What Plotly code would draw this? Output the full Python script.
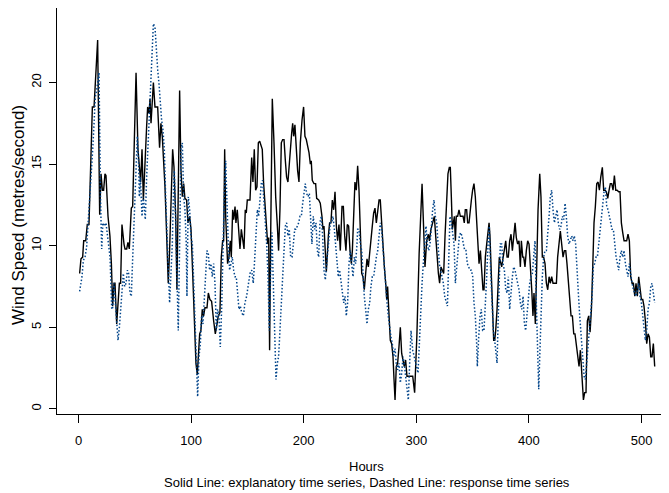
import plotly.graph_objects as go

# Explanatory time series (solid line): hours and wind speed (m/s)
expl_hours = [1, 2.2, 3.7, 4.6, 6.4, 7.8, 9.3, 12.3, 13.8, 17, 18.8, 20, 21.2, 22.3, 23.5, 24.4, 26.2, 27.9, 29.2, 30.3,
              31.5, 32.4, 33.9, 34.8, 36.3, 37.4, 38.6, 40.4, 41.3, 42.8, 43.9, 45.1, 46.9, 48.1, 51.1, 52.8, 55.2, 56.4, 57.6, 60.5,
              61.4, 62.6, 63.5, 64.4, 65.3, 66.5, 67.9, 70.3, 72, 73.2, 74.4, 76.8, 78.3, 79.7, 80.9, 82.4, 83.6, 84.8, 86.3, 87.4,
              88.6, 89.8, 91, 92.2, 93.4, 94.5, 96, 97.2, 98.7, 99.9, 101.3, 102.8, 104.3, 105.5, 106.4, 107.6, 108.7, 109.9, 111.1, 112.3,
              114.1, 115.3, 116.7, 118.2, 120, 121.5, 123, 124.1, 125.6, 126.8, 128, 128.9, 129.8, 130.7, 132.4, 133.6, 134.8, 135.7, 136.9, 137.8,
              139, 139.8, 141, 142.2, 143.4, 144.6, 145.8, 147, 148.1, 149, 149.9, 152.3, 153.8, 154.9, 156.1, 157.3, 158.5, 159.7, 160.9, 162,
              163.2, 164.4, 165.6, 166.8, 168, 168.9, 169.7, 170.6, 172.1, 173.6, 175.1, 176.6, 177.7, 178.9, 180.1, 181.3, 182.5, 183.7, 184.8, 186,
              187.2, 188.4, 189.3, 190.2, 191.1, 192.2, 193.4, 194.6, 195.8, 197, 198.5, 199.9, 201.1, 202.3, 203.5, 204.7, 205.9, 206.7, 207.6, 209.1,
              210.6, 211.5, 213.3, 214.7, 216.2, 217.1, 218, 219.2, 220.1, 221.9, 223, 224.2, 225.4, 226.6, 227.8, 229, 230.1, 231.3, 232.5, 234,
              235.2, 236.4, 237.5, 238.7, 239.9, 241.1, 242.3, 243.2, 244.4, 245.5, 246.7, 247.9, 249.1, 250.3, 251.5, 252.6, 253.8, 255, 256.2, 257.4,
              258.6, 259.7, 260.9, 262.1, 263.3, 264.5, 265.7, 266.9, 268, 269.2, 270.4, 271.6, 272.8, 273.7, 274.5, 275.7, 276.9, 278.1, 279.3, 280.2,
              281.1, 282.2, 283.4, 284.6, 285.8, 287, 288.2, 289.3, 290.5, 291.7, 294.1, 296.8, 298.5, 300.5, 302.5, 304, 305.1, 307.7, 309.2, 310.7,
              311.6, 313, 314.5, 316, 317.2, 318.4, 319.6, 320.7, 321.9, 323.1, 324.3, 325.5, 327, 328.1, 329.3, 330.2, 331.1, 332, 332.9, 333.8,
              334.7, 335.5, 336.7, 337.9, 339.1, 340.3, 341.5, 342.6, 343.5, 344.7, 345.6, 346.8, 347.7, 348.9, 350, 351.2, 352.4, 353.6, 354.8, 355.7,
              356.9, 358, 359.2, 360.1, 361.3, 362.5, 363.7, 364.6, 365.4, 366.3, 367.5, 368.7, 369.6, 370.5, 371.7, 372.8, 373.7, 375.8, 377.9, 379.4,
              380.6, 381.7, 382.9, 384.1, 385.3, 386.5, 387.7, 388.8, 390, 391.2, 392.4, 393.3, 394.5, 395.4, 396.5, 397.7, 398.9, 400.1, 401.3, 402.5,
              403.6, 404.5, 405.7, 406.9, 408.1, 409.6, 410.7, 411.9, 413.1, 414.3, 415.5, 416.7, 417.9, 419, 420.2, 421.4, 422.6, 424.4, 425.5, 426.7,
              427.9, 429.1, 430.3, 431.5, 432.7, 433.8, 435, 436.2, 437.4, 438.6, 439.8, 440.9, 442.1, 443.3, 444.5, 445.7, 446.9, 448.4, 449.5, 450.7,
              451.9, 453.1, 454.3, 455.5, 456.6, 457.8, 459, 460.2, 461.4, 462.6, 463.8, 465.2, 466.4, 467.6, 468.8, 470, 471.2, 472.3, 473.5, 474.7,
              475.9, 477.1, 478.3, 479.7, 480.9, 482.1, 483.3, 484.5, 485.7, 486.8, 488, 489.2, 490.4, 491.6, 492.8, 494, 495.1, 496.3, 497.5, 498.7,
              499.9, 501.1, 502.2, 503.4, 504.6, 505.8, 507, 508.2, 509.3, 510.5, 511.7]
expl_speed = [8.3, 9.2, 9.3, 10.3, 10.3, 11.3, 11.3, 18.5, 18.5, 22.6, 11.9, 14.4, 13.4, 13.4, 14.4, 14.3, 11.8, 10.6, 8.9, 6.3,
              7.7, 7.7, 5.2, 6.1, 7.7, 7.7, 11.3, 10.1, 9.8, 9.8, 10.2, 9.8, 12.3, 12.4, 20.6, 15.9, 13.9, 15.9, 12.8, 17.3,
              18.5, 18.1, 19.0, 17.5, 19.0, 20.0, 18.5, 18.5, 16.0, 17.5, 16.7, 13.6, 10.6, 7.7, 9.7, 13.4, 15.9, 14.8, 11.8, 7.3,
              13.0, 19.5, 14.6, 13.0, 13.8, 12.9, 12.8, 11.4, 11.8, 11.0, 8.5, 5.7, 2.8, 2.1, 3.2, 4.6, 4.8, 6.1, 5.7, 6.2,
              6.2, 7.1, 6.7, 6.6, 5.4, 4.6, 5.2, 5.7, 5.9, 9.3, 10.3, 10.3, 15.9, 11.8, 8.9, 9.3, 10.3, 9.3, 12.2, 11.6,
              12.4, 11.4, 12.2, 10.6, 9.8, 11.0, 10.4, 9.8, 12.2, 12.0, 12.8, 12.8, 15.4, 13.9, 15.9, 13.4, 13.6, 16.3, 16.4, 16.1,
              15.9, 13.8, 12.4, 11.2, 10.1, 10.5, 3.6, 10.3, 19.0, 16.3, 13.0, 11.2, 9.7, 12.2, 16.3, 16.5, 16.5, 15.2, 14.2, 13.9,
              15.2, 16.5, 16.9, 17.5, 16.7, 17.4, 15.9, 14.6, 13.9, 16.3, 17.7, 18.5, 16.7, 16.5, 16.1, 15.7, 15.0, 15.2, 14.0, 13.8,
              13.8, 12.9, 12.8, 12.6, 11.8, 11.0, 11.2, 9.1, 8.4, 10.6, 11.4, 11.4, 12.8, 12.2, 13.3, 11.2, 10.3, 11.3, 9.7, 12.4,
              12.4, 10.6, 9.7, 11.3, 11.2, 9.7, 8.9, 9.7, 12.4, 13.9, 13.4, 14.9, 13.4, 11.4, 8.3, 8.1, 7.3, 8.3, 9.2, 8.7,
              9.7, 10.1, 11.2, 12.0, 12.3, 11.4, 12.2, 12.8, 12.8, 11.2, 9.7, 8.7, 7.7, 6.7, 7.5, 5.7, 4.2, 4.0, 3.2, 1.8,
              0.55, 2.6, 2.8, 3.8, 5.0, 3.4, 3.0, 2.6, 3.0, 2.0, 2.0, 2.0, 1.0, 4.5, 9.5, 12.5, 13.8, 8.7, 10.3, 10.7,
              10.3, 11.0, 11.4, 11.8, 10.6, 9.3, 8.3, 7.7, 8.7, 8.5, 8.3, 10.6, 13.0, 14.4, 14.8, 14.8, 13.0, 11.0, 11.4, 11.8,
              10.3, 11.8, 11.8, 12.2, 11.8, 11.8, 11.8, 11.4, 12.2, 12.2, 11.4, 11.4, 12.2, 12.8, 13.4, 13.8, 13.0, 11.4, 9.7, 8.9,
              9.7, 8.1, 7.3, 7.3, 9.3, 10.1, 11.0, 11.4, 10.6, 8.5, 6.5, 4.2, 4.2, 4.8, 6.1, 8.1, 9.3, 8.7, 9.7, 10.3,
              9.3, 9.3, 10.3, 10.7, 9.7, 10.5, 11.4, 10.5, 10.1, 10.3, 8.7, 10.3, 9.3, 9.3, 8.7, 9.7, 10.3, 10.1, 8.9, 7.3,
              5.7, 7.1, 5.2, 8.9, 12.2, 14.4, 13.0, 9.3, 9.3, 8.9, 7.7, 7.3, 8.1, 7.7, 8.1, 7.7, 7.7, 7.7, 9.3, 10.3,
              10.9, 10.1, 9.3, 9.7, 9.7, 8.9, 7.7, 6.7, 5.7, 5.7, 4.6, 4.6, 4.0, 3.4, 2.6, 3.6, 2.0, 0.55, 1.0, 1.0,
              5.4, 5.7, 4.7, 6.1, 8.5, 11.4, 12.4, 13.8, 13.9, 13.4, 14.2, 14.8, 13.4, 13.4, 13.3, 12.9, 13.4, 13.8, 13.8, 13.4,
              14.3, 13.4, 13.4, 13.3, 13.3, 11.4, 10.8, 10.3, 10.3, 10.3, 10.7, 10.3, 8.1, 7.7, 7.7, 6.9, 7.7, 6.9, 8.1, 7.5,
              6.7, 6.7, 6.3, 5.4, 4.0, 4.6, 4.4, 3.2, 3.2, 4.0, 2.6]

# Response time series (dashed/dotted line)
resp_hours = [1, 3.1, 4.3, 5.8, 7.2, 8.7, 10.2, 11.4, 12.6, 13.8, 14.9, 16.1, 18.2, 19.5, 20.6, 21.6, 22.9, 24.4, 25, 26.5,
              28, 29.5, 30.3, 31.5, 32.7, 33.9, 35.1, 36.3, 37.4, 38.6, 39.8, 41, 42.2, 43.4, 44.5, 45.7, 46.9, 47.5, 48.7, 49.9,
              51.1, 52.2, 53.4, 54, 54.9, 55.8, 56.4, 57.6, 58.8, 59.3, 60.5, 61.7, 62.9, 64.1, 65.3, 66.5, 67.9, 69.4, 70.3, 71.5,
              72.6, 73.8, 75, 76.2, 77.4, 78.6, 79.7, 80.9, 82.1, 83.3, 84.5, 85.1, 86.3, 87.4, 88.6, 89.8, 91, 92.2, 93.4, 94.5,
              95.7, 96.3, 97.5, 98.7, 99.9, 101.1, 102.2, 103.4, 104.6, 105.8, 107, 108.2, 109.3, 110.5, 111.7, 112.9, 114.1, 115.3, 116.4, 117.6,
              118.8, 120, 121.2, 122.4, 123.5, 124.7, 125.9, 127.1, 128.3, 129.5, 130.7, 131.8, 133, 134.2, 135.4, 136.6, 137.8, 138.9, 140.1, 141.3,
              142.5, 143.7, 144.9, 146.4, 147.8, 149.3, 150.8, 152.3, 153.8, 155.2, 156.4, 157.6, 158.8, 160, 161.2, 162.3, 163.5, 164.7, 165.9, 167.1,
              168.3, 169.4, 170.6, 171.8, 173, 174.2, 175.4, 176.6, 177.7, 178.9, 180.1, 181.3, 182.5, 183.7, 184.8, 186, 187.2, 188.4, 189.6, 190.8,
              192, 193.1, 194.3, 195.5, 196.7, 197.9, 199.1, 200.2, 201.4, 202.6, 203.8, 205, 206.2, 207.3, 208.5, 209.7, 210.9, 212.1, 213.3, 214.4,
              215.6, 216.8, 218, 219.2, 220.4, 221.5, 222.6, 223.6, 224.8, 226, 227.2, 228.4, 229.6, 230.7, 231.9, 233.1, 234.3, 235.5, 236.7, 237.8,
              239, 240.2, 241.4, 242.6, 243.8, 245, 246.1, 247.3, 247.9, 249.1, 250.3, 251.5, 252.6, 253.8, 255, 256.2, 257.4, 258.6, 259.7, 260.9,
              262.1, 263.3, 264.5, 265.7, 266.9, 268, 269.2, 270.4, 271.6, 272.8, 274, 275.1, 276.3, 277.5, 278.7, 279.9, 281.1, 282.2, 283.4, 284.6,
              285.8, 287, 288.2, 289.3, 290.5, 291.7, 292.9, 294.1, 295.3, 296.8, 298, 299.1, 300.3, 301.5, 302.7, 303.9, 305.1, 306.2, 307.4, 308.6,
              309.8, 311, 312.2, 313.3, 314.5, 315.7, 316.9, 318.1, 319.3, 320.4, 321.6, 322.8, 324, 325.2, 326.4, 327.6, 328.7, 329.9, 331.1, 332.3,
              333.5, 334.7, 335.8, 337, 338.2, 339.4, 340.6, 341.8, 343, 344.1, 345.3, 346.5, 347.7, 348.9, 350.1, 351.2, 352.4, 353.6, 354.2, 355.4,
              356.6, 357.7, 358.9, 360.1, 361.3, 362.5, 363.7, 364.8, 366, 367.2, 368.4, 369.6, 370.8, 371.7, 372.5, 373.5, 374.6, 375.8, 377, 378.2,
              379.4, 380.6, 381.7, 382.9, 384.1, 385.3, 386.5, 387.7, 388.8, 390, 391.2, 392.4, 393.6, 394.8, 396, 397.1, 398.3, 399.5, 400.7, 401.9,
              403.1, 404.2, 405.4, 406.6, 407.8, 408.7, 409.6, 410.7, 411.9, 413.1, 414.3, 415.5, 416.7, 417.9, 419, 420.2, 421.4, 422.6, 423.8, 425,
              426.1, 427.3, 428.5, 429.7, 430.9, 432.1, 433.2, 434.4, 435.6, 436.8, 438, 439.2, 440.3, 441.5, 442.7, 443.9, 445.1, 446.6, 447.8, 449,
              450.1, 451.3, 452.5, 453.7, 454.9, 456.1, 457.2, 458.4, 459.6, 460.8, 462, 463.2, 464.3, 465.5, 466.7, 467.9, 469.1, 470.3, 471.4, 472.6,
              473.8, 475, 476.2, 477.4, 478.6, 479.7, 480.9, 482.1, 483.3, 484.5, 485.7, 486.8, 488, 489.2, 490.4, 491.6, 492.8, 494, 495.1, 496.3,
              497.5, 498.7, 499.9, 501.1, 502.2, 503.4, 504.6, 505.8, 507, 508.2, 509.3, 510.5, 511.7]
resp_speed = [7.2, 8.1, 9.1, 9.3, 9.9, 11.4, 13.0, 14.2, 15.9, 17.5, 19.1, 19.5, 20.6, 13.0, 9.8, 11.4, 11.2, 11.4, 11.0, 10.1,
              9.3, 6.1, 6.2, 7.7, 6.5, 5.2, 4.2, 5.0, 6.1, 7.7, 8.3, 7.5, 7.7, 8.5, 8.3, 7.1, 6.9, 8.1, 10.1, 12.2,
              14.6, 16.7, 15.0, 13.0, 14.2, 13.0, 11.8, 13.0, 12.2, 11.6, 14.2, 16.3, 18.3, 20.3, 22.0, 23.6, 23.4, 21.6, 20.8, 19.9,
              18.7, 17.7, 17.1, 15.9, 13.0, 10.6, 8.5, 6.5, 8.3, 10.1, 13.8, 14.6, 11.4, 8.1, 4.8, 10.1, 15.9, 16.3, 13.0, 12.2,
              10.1, 6.9, 13.0, 12.2, 10.6, 10.1, 8.1, 5.2, 3.2, 0.75, 3.2, 4.0, 5.7, 5.2, 6.7, 8.5, 9.7, 9.5, 8.5, 8.9,
              8.1, 8.9, 7.7, 4.8, 6.1, 5.7, 3.8, 6.1, 10.1, 13.2, 15.2, 11.8, 10.1, 8.5, 8.9, 9.3, 8.5, 8.1, 8.1, 6.9,
              6.1, 6.3, 5.9, 5.7, 6.5, 6.9, 7.5, 8.3, 8.5, 7.7, 9.1, 11.0, 12.2, 11.8, 13.0, 13.8, 14.0, 12.6, 11.8, 10.1,
              8.1, 4.8, 8.1, 10.8, 7.7, 4.0, 1.8, 2.8, 3.2, 4.8, 6.5, 8.9, 9.7, 11.2, 11.4, 10.6, 11.0, 9.3, 9.3, 10.1,
              11.0, 11.0, 11.2, 11.4, 11.8, 11.8, 12.6, 13.4, 13.8, 13.2, 13.0, 13.2, 11.8, 10.1, 11.8, 11.0, 11.4, 9.7, 9.3, 11.4,
              11.8, 10.6, 8.5, 7.9, 8.9, 9.7, 10.6, 11.4, 11.4, 11.8, 11.0, 10.1, 9.3, 8.1, 8.5, 7.7, 7.1, 6.5, 6.9, 5.7,
              6.5, 8.9, 9.7, 8.9, 8.1, 9.3, 8.9, 10.1, 11.0, 11.0, 10.1, 9.7, 8.1, 6.9, 6.1, 5.2, 6.1, 6.5, 7.5, 8.1,
              8.1, 8.9, 9.3, 9.7, 10.6, 11.4, 11.0, 9.7, 8.5, 7.7, 6.5, 5.7, 4.8, 4.4, 4.0, 3.2, 3.7, 2.8, 2.4, 2.8,
              1.6, 2.2, 3.2, 2.8, 2.0, 1.2, 0.55, 2.8, 4.8, 3.6, 3.2, 2.8, 2.4, 2.2, 4.0, 6.1, 7.7, 8.9, 10.1, 11.2,
              10.1, 9.7, 10.1, 11.2, 12.2, 12.8, 11.8, 11.4, 10.1, 8.9, 8.5, 8.1, 7.7, 6.9, 6.5, 6.3, 8.9, 11.8, 11.4, 10.6,
              10.1, 7.7, 8.5, 9.7, 10.6, 10.8, 10.6, 10.1, 9.7, 9.7, 8.9, 8.7, 8.5, 8.5, 8.1, 6.5, 5.7, 4.0, 2.6, 4.4,
              5.7, 6.1, 4.8, 4.8, 6.1, 8.1, 10.1, 11.2, 8.5, 6.5, 4.8, 4.2, 3.2, 2.8, 5.0, 8.1, 10.1, 10.1, 8.9, 8.5,
              7.3, 7.1, 8.1, 6.1, 7.3, 8.1, 8.7, 8.5, 8.1, 7.7, 7.3, 6.5, 6.1, 6.9, 5.2, 4.8, 5.7, 7.1, 7.7, 8.1,
              8.3, 9.3, 10.3, 6.5, 3.2, 1.2, 3.2, 6.5, 8.1, 9.3, 9.7, 9.7, 10.6, 11.8, 13.0, 13.4, 12.2, 11.4, 11.8, 12.2,
              11.4, 11.0, 11.2, 11.8, 11.6, 12.6, 11.8, 10.6, 10.1, 10.3, 10.6, 10.3, 10.6, 10.1, 8.9, 7.1, 5.7, 4.4, 3.2, 2.0,
              1.8, 2.8, 4.0, 4.8, 5.7, 6.9, 8.7, 8.9, 9.3, 9.3, 10.1, 11.0, 11.8, 12.4, 13.3, 13.6, 12.4, 12.2, 11.8, 11.4,
              11.0, 11.0, 10.1, 9.3, 8.9, 8.5, 9.3, 9.7, 9.3, 9.7, 8.9, 8.5, 8.1, 8.9, 8.1, 7.7, 7.3, 7.1, 6.9, 7.3,
              7.7, 6.9, 6.5, 5.7, 4.8, 4.2, 4.8, 6.1, 6.5, 7.5, 7.7, 6.9, 6.5]

x_ticks = [0, 100, 200, 300, 400, 500]
y_ticks = [0, 5, 10, 15, 20]

FONT = "Liberation Sans, Arial, sans-serif"

fig = go.Figure()
fig.add_trace(go.Scatter(x=expl_hours, y=expl_speed, mode="lines",
                         line=dict(color="black", width=1.4), hoverinfo="skip"))
fig.add_trace(go.Scatter(x=resp_hours, y=resp_speed, mode="lines",
                         line=dict(color="#00448a", width=1.5, dash="1.5px,2px"), hoverinfo="skip"))

# The page body adds an 8px offset; the figure is sized to fit the 669x493 window.
fig.update_layout(
    width=661, height=485,
    margin=dict(l=49, r=0, t=0, b=79, autoexpand=False),
    paper_bgcolor="white", plot_bgcolor="white",
    showlegend=False,
    font=dict(family=FONT, size=13, color="black"),
    xaxis=dict(range=[-19.1, 524.4], tickvals=x_ticks, ticktext=[str(v) for v in x_ticks],
               ticks="outside", ticklen=8, tickwidth=1, tickcolor="black", automargin=False,
               showline=True, linecolor="black", linewidth=1.3, mirror=True,
               showgrid=False, zeroline=False, tickfont=dict(size=13), ticklabelstandoff=6),
    yaxis=dict(range=[-0.31, 24.56], tickvals=y_ticks, ticktext=[str(v) for v in y_ticks],
               ticks="outside", ticklen=7, tickwidth=1, tickcolor="black", tickangle=-90, automargin=False,
               showline=True, linecolor="black", linewidth=1.3, mirror=False,
               showgrid=False, zeroline=False, tickfont=dict(size=13), ticklabelstandoff=3),
    annotations=[
        dict(text="Hours", xref="paper", yref="paper", x=0.5065, y=-0.1305,
             xanchor="center", yanchor="middle", showarrow=False, font=dict(size=13)),
        dict(text="Solid Line: explanatory time series, Dashed Line: response time series",
             xref="paper", yref="paper", x=0.5065, y=-0.1675,
             xanchor="center", yanchor="middle", showarrow=False, font=dict(size=13)),
        dict(text="Wind Speed (metres/second)", xref="paper", yref="paper", x=-0.0637, y=0.49,
             xanchor="center", yanchor="middle", textangle=-90, showarrow=False, font=dict(size=17)),
    ],
)

fig.write_html("out.html")
